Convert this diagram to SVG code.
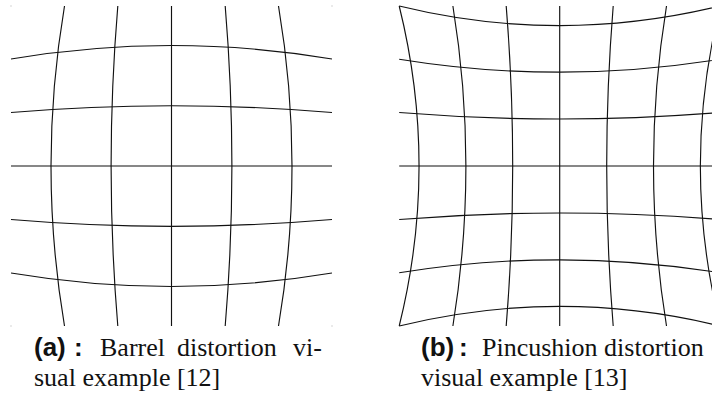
<svg xmlns="http://www.w3.org/2000/svg" width="712" height="397" viewBox="0 0 712 397">
<style>
.g{fill:none;stroke:#111;stroke-width:1.15}
.lbl{font-family:"Liberation Sans",Arial,sans-serif;font-weight:bold;font-size:26px;fill:#111}
.txt{font-family:"Liberation Serif","Times New Roman",serif;font-size:26px;fill:#111}
.dot{fill:#aaa}
</style>
<rect width="712" height="397" fill="#fff"/>
<g id="barrel">
  <rect class="dot" x="10.5" y="5.5" width="1" height="1"/>
  <rect class="dot" x="331.5" y="5.5" width="1" height="1"/>
  <rect class="dot" x="10.5" y="325.5" width="1" height="1"/>
  <rect class="dot" x="331.5" y="325.5" width="1" height="1"/>
  <path class="g" d="M64.5,6 Q37.5,166 64.5,326"/>
  <path class="g" d="M117.8,6 Q104.4,166 117.8,326"/>
  <path class="g" d="M171.5,6 L171.5,326"/>
  <path class="g" d="M225.2,6 Q238.6,166 225.2,326"/>
  <path class="g" d="M278.5,6 Q305.5,166 278.5,326"/>
  <path class="g" d="M11,59 Q171.5,32 332,59"/>
  <path class="g" d="M11,112.5 Q171.5,98.9 332,112.5"/>
  <path class="g" d="M11,166 L332,166"/>
  <path class="g" d="M11,219.5 Q171.5,233.1 332,219.5"/>
  <path class="g" d="M11,273 Q171.5,300 332,273"/>
</g>
<g id="pincushion">
  <path class="g" d="M399.2,6 Q438.9,166 399.2,326"/>
  <path class="g" d="M452.9,6 Q478.9,166 452.9,326"/>
  <path class="g" d="M506.2,6 Q519.2,166 506.2,326"/>
  <path class="g" d="M559.7,6 L559.7,326"/>
  <path class="g" d="M613.2,6 Q600.2,166 613.2,326"/>
  <path class="g" d="M666.5,6 Q640.5,166 666.5,326"/>
  <path class="g" d="M720.2,6 Q680.5,166 720.2,326"/>
  <path class="g" d="M399.2,6 Q559.7,45.2 720.2,6"/>
  <path class="g" d="M399.2,59.2 Q559.7,85.2 720.2,59.2"/>
  <path class="g" d="M399.2,112.5 Q559.7,125.5 720.2,112.5"/>
  <path class="g" d="M399.2,166 L720.2,166"/>
  <path class="g" d="M399.2,219.5 Q559.7,206.5 720.2,219.5"/>
  <path class="g" d="M399.2,272.8 Q559.7,246.8 720.2,272.8"/>
  <path class="g" d="M399.2,326 Q559.7,286.8 720.2,326"/>
</g>
<g id="caption-a">
  <text class="lbl" x="34" y="356">(a)</text>
  <text class="lbl" x="74" y="356">:</text>
  <text class="txt" y="356"><tspan x="100">Barrel</tspan><tspan x="177">distortion</tspan><tspan x="293">vi-</tspan></text>
  <text class="txt" x="34" y="386">sual example [12]</text>
</g>
<g id="caption-b">
  <text class="lbl" x="421" y="356">(b)</text>
  <text class="lbl" x="459" y="356">:</text>
  <text class="txt" x="482" y="356">Pincushion distortion</text>
  <text class="txt" x="421" y="386">visual example [13]</text>
</g>
</svg>
